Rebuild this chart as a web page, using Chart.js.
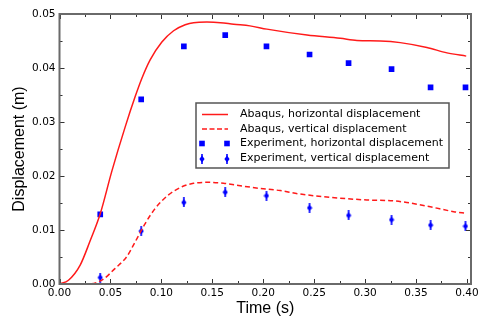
<!DOCTYPE html>
<html>
<head>
<meta charset="utf-8">
<script src="https://cdn.jsdelivr.net/npm/chart.js@4/dist/chart.umd.min.js"></script>
<style>
  body { margin: 0; background: #fff; }
  canvas { display: block; }
</style>
</head>
<body>
<canvas id="chart" width="495" height="327"></canvas>
<script>
'use strict';
// Abaqus results, horizontal displacement (time s, displacement m)
const abaqusHTime = [0, 0.0088, 0.0203, 0.0301, 0.040, 0.0514, 0.0645, 0.0743, 0.0809, 0.089, 0.1005, 0.112, 0.1234, 0.1316, 0.1447, 0.158, 0.171, 0.187, 0.2036, 0.243, 0.2756, 0.292, 0.315, 0.3345, 0.3607, 0.3804, 0.3993];
const abaqusHDisp = [0, 0.0007, 0.0035, 0.0080, 0.0130, 0.0209, 0.0291, 0.0347, 0.0381, 0.0415, 0.0448, 0.0469, 0.0480, 0.0484, 0.0485, 0.0484, 0.0481, 0.0478, 0.0472, 0.0461, 0.0455, 0.0451, 0.0450, 0.0447, 0.0438, 0.0428, 0.0422];
// Abaqus results, vertical displacement
const abaqusVTime = [0, 0.0285, 0.0416, 0.0547, 0.0662, 0.0743, 0.0841, 0.094, 0.107, 0.1202, 0.1316, 0.1447, 0.161, 0.1774, 0.197, 0.2167, 0.2347, 0.2756, 0.3018, 0.328, 0.341, 0.364, 0.387, 0.3993];
const abaqusVDisp = [0, 0, 0.0007, 0.0029, 0.0051, 0.0078, 0.0112, 0.0140, 0.0165, 0.0180, 0.01865, 0.01883, 0.01865, 0.0182, 0.0177, 0.0173, 0.0167, 0.0159, 0.01556, 0.0154, 0.0151, 0.0143, 0.0134, 0.0131];
// Measured values
const expTime = [0.040, 0.0802, 0.1221, 0.1627, 0.2032, 0.2455, 0.2838, 0.326, 0.3643, 0.3986];
const expHDisp = [0.0129, 0.0342, 0.0440, 0.0461, 0.0440, 0.0425, 0.0409, 0.0398, 0.0364, 0.0364];
const expVDisp = [0.0012, 0.0098, 0.0151, 0.0170, 0.01635, 0.0141, 0.0127, 0.0119, 0.0109, 0.0107];
// Axis ticks
const xTicks = [0, 0.05, 0.10, 0.15, 0.20, 0.25, 0.30, 0.35, 0.40];
const yTicks = [0, 0.01, 0.02, 0.03, 0.04, 0.05];

const legendLabels = [
  'Abaqus, horizontal displacement',
  'Abaqus, vertical displacement',
  'Experiment, horizontal displacement',
  'Experiment, vertical displacement'
];

const RED = '#ff1a1a';
const BLUE = '#0000ff';

// small diamond with a vertical bar, used for the vertical measurements
function makeDiamond() {
  const c = document.createElement('canvas');
  c.width = 6; c.height = 10;
  const g = c.getContext('2d');
  g.fillStyle = BLUE;
  g.strokeStyle = BLUE;
  g.lineWidth = 1.6;
  g.beginPath(); g.moveTo(3, 0); g.lineTo(3, 10); g.stroke();
  g.beginPath();
  g.moveTo(3, 1.5); g.lineTo(5.6, 5); g.lineTo(3, 8.5); g.lineTo(0.4, 5);
  g.closePath(); g.fill();
  return c;
}
const diamond = makeDiamond();

const pts = (xs, ys) => xs.map((x, i) => ({x: x, y: ys[i]}));

// frame with inward major/minor ticks on all four sides
const framePlugin = {
  id: 'frame',
  afterDatasetsDraw(chart) {
    const {ctx, chartArea: a, scales} = chart;
    const minors = arr => arr.slice(1).map((v, i) => (v + arr[i]) / 2);
    ctx.save();
    ctx.strokeStyle = '#333';
    ctx.lineWidth = 1;
    const tick = (vals, len) => {
      vals.forEach(v => {
        const px = Math.round(scales.x.getPixelForValue(v)) + 0.5;
        ctx.beginPath();
        ctx.moveTo(px, a.bottom); ctx.lineTo(px, a.bottom - len);
        ctx.moveTo(px, a.top); ctx.lineTo(px, a.top + len);
        ctx.stroke();
      });
    };
    const ytick = (vals, len) => {
      vals.forEach(v => {
        const py = Math.round(scales.y.getPixelForValue(v)) + 0.5;
        ctx.beginPath();
        ctx.moveTo(a.left, py); ctx.lineTo(a.left + len, py);
        ctx.moveTo(a.right, py); ctx.lineTo(a.right - len, py);
        ctx.stroke();
      });
    };
    tick(xTicks, 5); tick(minors(xTicks), 3);
    ytick(yTicks, 5); ytick(minors(yTicks), 3);
    ctx.strokeStyle = '#6a6a6a';
    ctx.lineWidth = 2;
    ctx.strokeRect(a.left, a.top, a.right - a.left, a.bottom - a.top);
    ctx.restore();
  }
};

// boxed legend inside the plot
const legendPlugin = {
  id: 'boxLegend',
  afterDraw(chart) {
    const ctx = chart.ctx;
    const bx = 196, by = 103, bw = 253, bh = 65;
    const rows = [114.5, 129, 143.5, 158.5];
    ctx.save();
    ctx.fillStyle = '#fff';
    ctx.fillRect(bx, by, bw, bh);
    ctx.strokeStyle = '#555';
    ctx.lineWidth = 1.5;
    ctx.strokeRect(bx, by, bw, bh);
    const x1 = 202, x2 = 227;
    rows.forEach((y, i) => {
      if (i < 2) {
        ctx.strokeStyle = RED;
        ctx.lineWidth = 1.5;
        ctx.setLineDash(i === 1 ? [5, 2.5] : []);
        ctx.beginPath(); ctx.moveTo(x1, y); ctx.lineTo(x2 + 1, y); ctx.stroke();
        ctx.setLineDash([]);
      } else if (i === 2) {
        ctx.fillStyle = BLUE;
        [x1, x2].forEach(x => ctx.fillRect(x - 2.8, y - 2.8, 5.6, 5.6));
      } else {
        [x1, x2].forEach(x => ctx.drawImage(diamond, Math.round(x - 3), Math.round(y - 5)));
      }
      ctx.fillStyle = '#000';
      ctx.font = '11px "DejaVu Sans"';
      ctx.textBaseline = 'middle';
      ctx.fillText(legendLabels[i], 240, y);
    });
    ctx.restore();
  }
};

const tickFont = {family: 'DejaVu Sans', size: 10.5};
const titleFont = {family: 'Liberation Sans', size: 16};

new Chart(document.getElementById('chart').getContext('2d'), {
  type: 'scatter',
  data: {
    datasets: [
      {label: legendLabels[0], data: pts(abaqusHTime, abaqusHDisp), showLine: true,
        borderColor: RED, borderWidth: 1.5, pointRadius: 0, cubicInterpolationMode: 'monotone'},
      {label: legendLabels[1], data: pts(abaqusVTime, abaqusVDisp), showLine: true,
        borderColor: RED, borderWidth: 1.5, borderDash: [5, 3], pointRadius: 0, cubicInterpolationMode: 'monotone'},
      {label: legendLabels[2], data: pts(expTime, expHDisp), pointStyle: 'rect',
        pointRadius: 4, pointBorderWidth: 0, backgroundColor: BLUE, borderColor: BLUE},
      {label: legendLabels[3], data: pts(expTime, expVDisp), pointStyle: diamond,
        pointRadius: 5, backgroundColor: BLUE, borderColor: BLUE}
    ]
  },
  options: {
    responsive: false,
    animation: false,
    events: [],
    layout: {padding: {left: 0, right: 24, top: 14, bottom: 0}},
    plugins: {legend: {display: false}, tooltip: {enabled: false}},
    scales: {
      x: {
        type: 'linear', min: 0, max: 0.404,
        afterBuildTicks: s => { s.ticks = xTicks.map(v => ({value: v})); },
        afterFit: s => { s.height = 43; },
        grid: {display: false, drawTicks: false},
        border: {display: false},
        ticks: {font: tickFont, color: '#000', padding: 3, maxRotation: 0, autoSkip: false,
          callback: v => v.toFixed(2)},
        title: {display: true, text: 'Time (s)', font: titleFont, color: '#000',
          padding: {top: 0, bottom: 8.5}}
      },
      y: {
        type: 'linear', min: 0, max: 0.05,
        afterBuildTicks: s => { s.ticks = yTicks.map(v => ({value: v})); },
        afterFit: s => { s.width = 59.5; },
        grid: {display: false, drawTicks: false},
        border: {display: false},
        ticks: {font: tickFont, color: '#000', padding: 4, autoSkip: false,
          callback: v => v.toFixed(2)},
        title: {display: true, text: 'Displacement (m)', font: titleFont, color: '#000',
          padding: {top: 9.5, bottom: 0}}
      }
    }
  },
  plugins: [framePlugin, legendPlugin]
});
</script>
</body>
</html>
